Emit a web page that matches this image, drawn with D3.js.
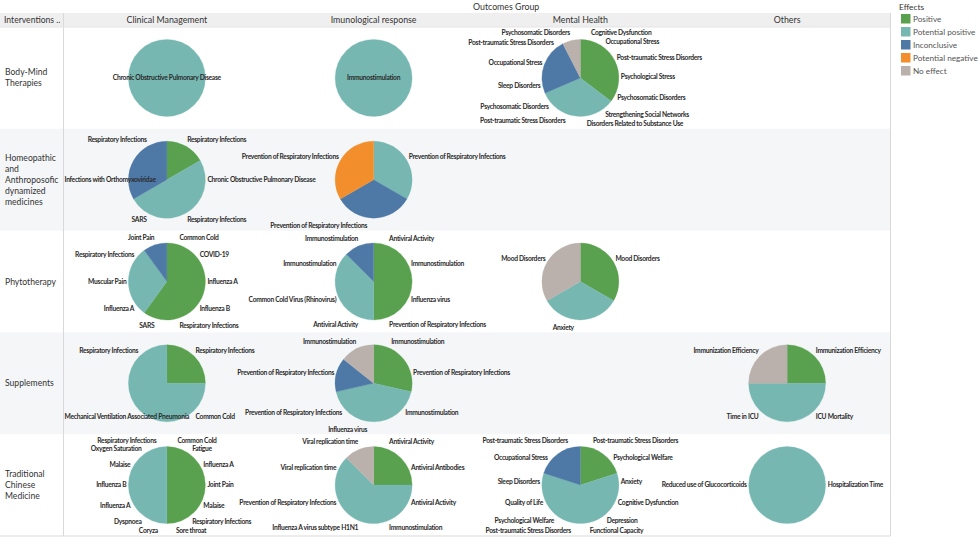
<!DOCTYPE html>
<html><head><meta charset="utf-8">
<script src="https://cdn.jsdelivr.net/npm/d3@7"></script>
<style>
body{margin:0;background:#fff;}
svg{display:block;font-family:Lato,"Noto Sans",sans-serif;}
</style></head><body>
<svg id="chart" width="979" height="539"></svg>
<script>
// ---------- DATA ----------
const interventions = ["Body-Mind Therapies","Homeopathic and Anthroposofic dynamized medicines","Phytotherapy","Supplements","Traditional Chinese Medicine"];
const outcomeGroups = ["Clinical Management","Imunological response","Mental Health","Others"];
const effects = ["Positive","Potential positive","Inconclusive","Potential negative","No effect"];
const effectColors = ["#59a14f","#76b7b2","#4e79a7","#f28e2b","#bab0ac"];

// [outcome group, outcome, effect, weight]
const bodyMindSlices = [
  ["Clinical Management","Chronic Obstructive Pulmonary Disease","Potential positive",1],
  ["Imunological response","Immunostimulation","Potential positive",1],
  ["Mental Health","Cognitive Dysfunction","Positive",0.92],
  ["Mental Health","Occupational Stress","Positive",0.92],
  ["Mental Health","Post-traumatic Stress Disorders","Positive",0.92],
  ["Mental Health","Psychological Stress","Positive",0.92],
  ["Mental Health","Psychosomatic Disorders","Positive",0.92],
  ["Mental Health","Strengthening Social Networks","Potential positive",1.08],
  ["Mental Health","Disorders Related to Substance Use","Potential positive",1.08],
  ["Mental Health","Post-traumatic Stress Disorders","Potential positive",1.08],
  ["Mental Health","Psychosomatic Disorders","Potential positive",1.08],
  ["Mental Health","Sleep Disorders","Inconclusive",1.04],
  ["Mental Health","Occupational Stress","Inconclusive",1.04],
  ["Mental Health","Post-traumatic Stress Disorders","Inconclusive",1.04],
  ["Mental Health","Psychosomatic Disorders","No effect",0.98]
];
const homeopathicSlices = [
  ["Clinical Management","Respiratory Infections","Positive",1],
  ["Clinical Management","Chronic Obstructive Pulmonary Disease","Potential positive",1],
  ["Clinical Management","Respiratory Infections","Potential positive",1],
  ["Clinical Management","SARS","Potential positive",1],
  ["Clinical Management","Infections with Orthomyxoviridae","Inconclusive",1],
  ["Clinical Management","Respiratory Infections","Inconclusive",1],
  ["Imunological response","Prevention of Respiratory Infections","Potential positive",1],
  ["Imunological response","Prevention of Respiratory Infections","Inconclusive",1],
  ["Imunological response","Prevention of Respiratory Infections","Potential negative",1]
];
const phytotherapySlices = [
  ["Clinical Management","Common Cold","Positive",1],
  ["Clinical Management","COVID-19","Positive",1],
  ["Clinical Management","Influenza A","Positive",1],
  ["Clinical Management","Influenza B","Positive",1],
  ["Clinical Management","Respiratory Infections","Positive",1],
  ["Clinical Management","SARS","Positive",1],
  ["Clinical Management","Influenza A","Potential positive",1],
  ["Clinical Management","Muscular Pain","Potential positive",1],
  ["Clinical Management","Respiratory Infections","Potential positive",1],
  ["Clinical Management","Joint Pain","Inconclusive",1],
  ["Imunological response","Antiviral Activity","Positive",1],
  ["Imunological response","Immunostimulation","Positive",1],
  ["Imunological response","Influenza virus","Positive",1],
  ["Imunological response","Prevention of Respiratory Infections","Positive",1],
  ["Imunological response","Antiviral Activity","Potential positive",1],
  ["Imunological response","Common Cold Virus (Rhinovirus)","Potential positive",1],
  ["Imunological response","Immunostimulation","Potential positive",1],
  ["Imunological response","Immunostimulation","Inconclusive",1],
  ["Mental Health","Mood Disorders","Positive",1],
  ["Mental Health","Anxiety","Potential positive",1],
  ["Mental Health","Mood Disorders","No effect",1]
];
const supplementsSlices = [
  ["Clinical Management","Respiratory Infections","Positive",1],
  ["Clinical Management","Common Cold","Potential positive",1],
  ["Clinical Management","Mechanical Ventilation Associated Pneumonia","Potential positive",1],
  ["Clinical Management","Respiratory Infections","Potential positive",1],
  ["Imunological response","Immunostimulation","Positive",1],
  ["Imunological response","Prevention of Respiratory Infections","Positive",1],
  ["Imunological response","Immunostimulation","Potential positive",1],
  ["Imunological response","Influenza virus","Potential positive",1],
  ["Imunological response","Prevention of Respiratory Infections","Potential positive",1],
  ["Imunological response","Prevention of Respiratory Infections","Inconclusive",1],
  ["Imunological response","Immunostimulation","No effect",1],
  ["Others","Immunization Efficiency","Positive",1],
  ["Others","ICU Mortality","Potential positive",1],
  ["Others","Time in ICU","Potential positive",1],
  ["Others","Immunization Efficiency","No effect",1]
];
const chineseMedicineSlices = [
  ["Clinical Management","Common Cold","Positive",1],
  ["Clinical Management","Fatigue","Positive",1],
  ["Clinical Management","Influenza A","Positive",1],
  ["Clinical Management","Joint Pain","Positive",1],
  ["Clinical Management","Malaise","Positive",1],
  ["Clinical Management","Respiratory Infections","Positive",1],
  ["Clinical Management","Sore throat","Positive",1],
  ["Clinical Management","Coryza","Potential positive",1],
  ["Clinical Management","Dyspnoea","Potential positive",1],
  ["Clinical Management","Influenza A","Potential positive",1],
  ["Clinical Management","Influenza B","Potential positive",1],
  ["Clinical Management","Malaise","Potential positive",1],
  ["Clinical Management","Oxygen Saturation","Potential positive",1],
  ["Clinical Management","Respiratory Infections","Potential positive",1],
  ["Imunological response","Antiviral Activity","Positive",1],
  ["Imunological response","Antiviral Antibodies","Positive",1],
  ["Imunological response","Antiviral Activity","Potential positive",1],
  ["Imunological response","Immunostimulation","Potential positive",1],
  ["Imunological response","Influenza A virus subtype H1N1","Potential positive",1],
  ["Imunological response","Prevention of Respiratory Infections","Potential positive",1],
  ["Imunological response","Viral replication time","Potential positive",1],
  ["Imunological response","Viral replication time","No effect",1],
  ["Mental Health","Post-traumatic Stress Disorders","Positive",1.2],
  ["Mental Health","Psychological Welfare","Positive",1.2],
  ["Mental Health","Anxiety","Potential positive",0.9],
  ["Mental Health","Cognitive Dysfunction","Potential positive",0.9],
  ["Mental Health","Depression","Potential positive",0.9],
  ["Mental Health","Functional Capacity","Potential positive",0.9],
  ["Mental Health","Post-traumatic Stress Disorders","Potential positive",0.9],
  ["Mental Health","Psychological Welfare","Potential positive",0.9],
  ["Mental Health","Quality of Life","Potential positive",0.9],
  ["Mental Health","Sleep Disorders","Potential positive",0.9],
  ["Mental Health","Occupational Stress","Inconclusive",1.2],
  ["Mental Health","Post-traumatic Stress Disorders","Inconclusive",1.2],
  ["Others","Hospitalization Time","Potential positive",1],
  ["Others","Reduced use of Glucocorticoids","Potential positive",1]
];
const slicesByIntervention = [bodyMindSlices, homeopathicSlices, phytotherapySlices, supplementsSlices, chineseMedicineSlices];

// ---------- LAYOUT ----------
const svg = d3.select("#chart");
const tableLeft = 63.5, tableRight = 890.5, headerTop = 13, tableTop = 27, tableBottom = 536;
const R = 38.5;
const x = d3.scaleBand().domain(outcomeGroups).range([tableLeft, tableRight]);
const y = d3.scaleBand().domain(interventions).range([tableTop, tableBottom]);
const color = d3.scaleOrdinal().domain(effects).range(effectColors);

// backgrounds
svg.append("rect").attr("x",0).attr("y",headerTop).attr("width",tableRight).attr("height",tableTop-headerTop).attr("fill","#efefef");
interventions.forEach((iv,i)=>{
  if(i%2===1) svg.append("rect").attr("x",0).attr("y",y(iv)).attr("width",tableRight).attr("height",y.bandwidth()).attr("fill","#f5f6f8");
});
svg.append("line").attr("x1",tableLeft).attr("x2",tableLeft).attr("y1",headerTop).attr("y2",tableBottom).attr("stroke","#d9d9d9");
svg.append("line").attr("x1",tableRight).attr("x2",tableRight).attr("y1",headerTop).attr("y2",tableBottom).attr("stroke","#d9d9d9");
svg.append("line").attr("x1",0).attr("x2",tableRight).attr("y1",tableBottom).attr("y2",tableBottom).attr("stroke","#d9d9d9");
svg.append("line").attr("x1",0).attr("x2",tableRight).attr("y1",tableTop).attr("y2",tableTop).attr("stroke","#e4e4e4");

// headers
svg.append("text").attr("x",473).attr("y",7).attr("dy","0.35em").attr("font-size",8.8).attr("fill","#333").text("Outcomes Group");
svg.append("text").attr("x",4).attr("y",20).attr("dy","0.35em").attr("font-size",8.6).attr("fill","#333").text("Interventions ..");
svg.selectAll("text.colh").data(outcomeGroups).join("text").attr("class","colh")
  .attr("x",d=>x(d)+x.bandwidth()/2).attr("y",20).attr("dy","0.35em").attr("text-anchor","middle")
  .attr("font-size",8.8).attr("fill","#333").text(d=>d);

// row headers
interventions.forEach(iv=>{
  const words = iv.split(" ");
  const lh = 11;
  const cy = y(iv)+y.bandwidth()/2;
  const t = svg.append("text").attr("font-size",8.6).attr("fill","#333");
  words.forEach((w,i)=>{
    t.append("tspan").attr("x",5).attr("y",cy - (words.length-1)*lh/2 + i*lh).attr("dy","0.35em").text(w);
  });
});

// legend
svg.append("text").attr("x",899).attr("y",7).attr("dy","0.35em").attr("font-size",8.4).attr("fill","#333").text("Effects");
const lg = svg.selectAll("g.leg").data(effects).join("g").attr("class","leg")
  .attr("transform",(d,i)=>`translate(901,${19+i*13})`);
lg.append("rect").attr("x",0).attr("y",-5).attr("width",9.5).attr("height",9.5).attr("fill",d=>color(d));
lg.append("text").attr("x",12).attr("y",0).attr("dy","0.32em").attr("font-size",8.2).attr("fill","#555").text(d=>d);

// pies
const arc = d3.arc().innerRadius(0).outerRadius(R);
const pie = d3.pie().value(d=>d.value).sort(null);
const labelSize = 6.7, gap = 8.6;

interventions.forEach((iv,ri)=>{
  const rows = slicesByIntervention[ri];
  outcomeGroups.forEach(og=>{
    const data = rows.filter(r=>r[0]===og).map(r=>({outcome:r[1],effect:r[2],value:r[3]}));
    if(!data.length) return;
    data.sort((a,b)=>effects.indexOf(a.effect)-effects.indexOf(b.effect));
    const cx = x(og)+x.bandwidth()/2, cy = y(iv)+y.bandwidth()/2;
    const arcs = pie(data);
    // slices of the same effect are drawn as one wedge (no visible seams, as in the original)
    const wedges = d3.groups(arcs, d=>d.data.effect).map(([e,as])=>({
      effect:e, startAngle:as[0].startAngle, endAngle:as[as.length-1].endAngle
    }));
    const g = svg.append("g").attr("transform",`translate(${cx},${cy})`);
    g.selectAll("path").data(wedges).join("path").attr("d",arc)
      .attr("fill",d=>color(d.effect)).attr("stroke",d=>color(d.effect)).attr("stroke-width",0.3);

    const lt = svg.append("g").attr("font-size",labelSize).attr("font-weight",700)
      .attr("letter-spacing","-0.28px").attr("fill","#2b2b2b");
    if(arcs.length===1){
      lt.append("text").attr("x",cx).attr("y",cy).attr("dy","0.35em").attr("text-anchor","middle").text(arcs[0].data.outcome);
      return;
    }
    const labs = arcs.map(a=>{
      const m = (a.startAngle+a.endAngle)/2;
      const deg = m*180/Math.PI;
      return {text:a.data.outcome, right: deg < 179.5, y: -(R+8)*Math.cos(m)};
    });
    const minY = y(iv) - cy + 6, maxY = y(iv)+y.bandwidth() - cy - 5;
    [true,false].forEach(side=>{
      const list = labs.filter(l=>l.right===side).sort((a,b)=>a.y-b.y);
      for(let it=0; it<200; it++){
        let moved=false;
        for(let i=1;i<list.length;i++){
          const d = list[i].y-list[i-1].y;
          if(d<gap-0.01){ const s=(gap-d)/2; list[i].y+=s; list[i-1].y-=s; moved=true; }
        }
        list.forEach(l=>{ if(l.y<minY) l.y=minY; if(l.y>maxY) l.y=maxY; });
        if(!moved) break;
      }
      list.forEach(l=>{
        const c = Math.max(-1, Math.min(1, -l.y/(R+8)));
        const s = Math.sqrt(1-c*c);
        l.x = (side?1:-1)*(R+2)*s;
      });
    });
    labs.forEach(l=>{
      const t = lt.append("text").attr("y",cy+l.y).attr("dy","0.35em")
        .attr("text-anchor", l.right ? "start" : "end").text(l.text);
      const w = t.node().getComputedTextLength();
      let ax = cx + l.x;
      if(l.right){ if(ax + w > tableRight - 1) ax = tableRight - 1 - w; }
      else { if(ax - w < tableLeft + 1) ax = tableLeft + 1 + w; }
      t.attr("x",ax);
    });
  });
});
</script>
</body></html>
